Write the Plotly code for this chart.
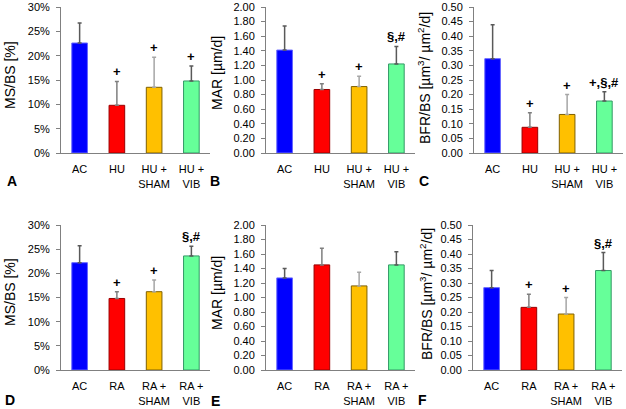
import plotly.graph_objects as go

# values (bar mean, top of error bar)
cats_hu = ["AC", "HU", "HU +<br>SHAM", "HU +<br>VIB"]
cats_ra = ["AC", "RA", "RA +<br>SHAM", "RA +<br>VIB"]

ms_hu = [22.6, 9.8, 13.5, 14.8]
ms_hu_err = [4.1, 4.9, 6.2, 3.1]
mar_hu = [1.41, 0.87, 0.91, 1.22]
mar_hu_err = [0.33, 0.08, 0.14, 0.24]
bfr_hu = [0.323, 0.088, 0.132, 0.178]
bfr_hu_err = [0.116, 0.050, 0.068, 0.032]

ms_ra = [22.2, 14.8, 16.2, 23.6]
ms_ra_err = [3.5, 1.4, 2.4, 2.0]
mar_ra = [1.27, 1.45, 1.16, 1.45]
mar_ra_err = [0.13, 0.23, 0.19, 0.18]
bfr_ra = [0.284, 0.216, 0.193, 0.343]
bfr_ra_err = [0.059, 0.045, 0.057, 0.062]

sig_a = ["", "+", "+", "+"]
sig_b = ["", "+", "+", "§,#"]
sig_c = ["", "+", "+", "+,§,#"]
sig_d = ["", "+", "+", "§,#"]
sig_e = ["", "", "", ""]
sig_f = ["", "+", "+", "§,#"]

fill = ["#0000FF", "#FF0000", "#FFC000", "#66FF99"]
edge = ["#6666FF", "#990000", "#7F6000", "#339966"]
errc = ["#595959", "#7F7F7F", "#A6A6A6", "#595959"]

FONT = "Liberation Sans, Arial, sans-serif"
W, H = 626, 409

panels = [
    # cats, vals, errs, sigs, letter, title, ymax, dtick, fmt, suffix, left px, top px, bottom px, title x, title y, letter x, letter y
    (cats_hu, ms_hu, ms_hu_err, sig_a, "A", "MS/BS [%]", 30, 5, "d", "%", 61, 7, 153, 10, 75, 12, 181),
    (cats_hu, mar_hu, mar_hu_err, sig_b, "B", "MAR [µm/d]", 2.0, 0.2, ".2f", "", 266, 7, 153, 217, 73, 215, 181),
    (cats_hu, bfr_hu, bfr_hu_err, sig_c, "C", "BFR/BS [µm<sup>3</sup>/ µm<sup>2</sup>/d]", 0.5, 0.05, ".2f", "", 474, 7, 153, 424, 78, 424, 181),
    (cats_ra, ms_ra, ms_ra_err, sig_d, "D", "MS/BS [%]", 30, 5, "d", "%", 61, 225, 370, 10, 292, 10, 400),
    (cats_ra, mar_ra, mar_ra_err, sig_e, "E", "MAR [µm/d]", 2.0, 0.2, ".2f", "", 266, 225, 370, 217, 293, 215, 401),
    (cats_ra, bfr_ra, bfr_ra_err, sig_f, "F", "BFR/BS [µm<sup>3</sup>/ µm<sup>2</sup>/d]", 0.5, 0.05, ".2f", "", 473, 225, 370, 426, 294, 422, 400),
]

fig = go.Figure()
annotations = []
span = 149

for i, (cats, vals, errs, sigs, letter, title, ymax, dt, fmt, suf, left, top, bot, tx, ty, lx, ly) in enumerate(panels):
    n = "" if i == 0 else str(i + 1)
    xa, ya = "x" + n, "y" + n
    for j in range(4):
        fig.add_trace(go.Bar(
            x=[cats[j]], y=[vals[j]], xaxis=xa, yaxis=ya, width=0.42,
            marker=dict(color=fill[j], line=dict(color=edge[j], width=1)),
            error_y=dict(type="data", array=[errs[j]], arrayminus=[0], symmetric=False,
                         color=errc[j], thickness=1.5, width=2),
            showlegend=False, hoverinfo="skip"))
        if sigs[j]:
            annotations.append(dict(
                x=cats[j], y=vals[j] + errs[j], xref=xa, yref=ya, text="<b>" + sigs[j] + "</b>",
                showarrow=False, yanchor="bottom", yshift=0,
                font=dict(family=FONT, size=13, color="black")))
    fig.update_layout({
        "xaxis" + n: dict(domain=[left / W, (left + span) / W], anchor=ya, type="category",
                          categoryorder="array", categoryarray=cats, range=[-0.5, 3.5],
                          showline=True, linecolor="#808080", linewidth=1, ticks="",
                          showgrid=False, zeroline=False, ticklabelstandoff=6, automargin=False,
                          tickfont=dict(family=FONT, size=11, color="black")),
        "yaxis" + n: dict(domain=[1 - bot / H, 1 - top / H], anchor=xa, range=[0, ymax],
                          dtick=dt, tick0=0, tickformat=fmt, ticksuffix=suf,
                          showline=True, linecolor="#808080", linewidth=1,
                          ticks="outside", ticklen=4, tickcolor="#808080", automargin=False,
                          showgrid=False, zeroline=False, ticklabelstandoff=4,
                          tickfont=dict(family=FONT, size=11, color="black")),
    })
    annotations.append(dict(x=tx / W, y=1 - ty / H, xref="paper", yref="paper", text=title,
                            textangle=-90, showarrow=False, xanchor="center", yanchor="middle",
                            font=dict(family=FONT, size=14, color="black")))
    annotations.append(dict(x=lx / W, y=1 - ly / H, xref="paper", yref="paper", text="<b>" + letter + "</b>",
                            showarrow=False, xanchor="center", yanchor="middle",
                            font=dict(family=FONT, size=14, color="black")))

fig.update_layout(width=W, height=H, margin=dict(l=0, r=0, t=0, b=0),
                  plot_bgcolor="white", paper_bgcolor="white", barmode="overlay",
                  annotations=annotations)

# page body margin would shift the figure by 8px
fig.write_html("out.html", config={"displayModeBar": False},
               post_script="document.body.style.margin='0';")
